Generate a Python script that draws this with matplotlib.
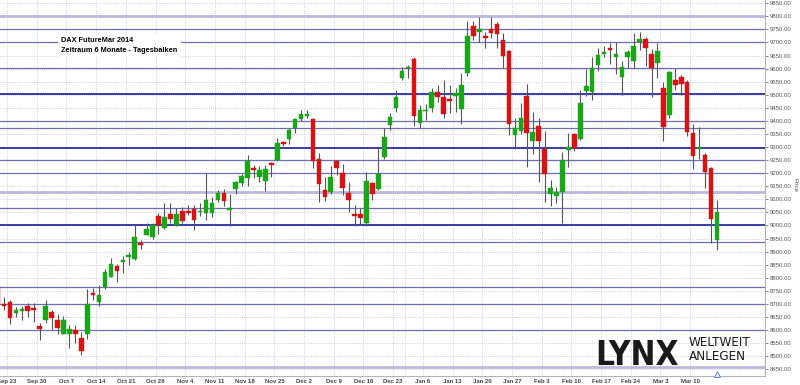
"""DAX future (Mar 2014) daily candles, Sep 2013 - Mar 2014, with horizontal support lines."""
import matplotlib
matplotlib.use("Agg")
import matplotlib.pyplot as plt
from matplotlib import font_manager
import numpy as np
import pandas as pd

HOLIDAYS = ["2013-12-24", "2013-12-25", "2013-12-26", "2013-12-31", "2014-01-01"]
dates = pd.bdate_range("2013-09-19", "2014-03-14").drop(pd.to_datetime(HOLIDAYS))

opens = [8765, 8701, 8708, 8666, 8673, 8691, 8685, 8615, 8637, 8669, 8640, 8586, 8584, 8599, 8571,
         8583, 8742, 8708, 8763, 8803, 8844, 8862, 8879, 8871, 8928, 8965, 8957, 9037, 8992, 9043,
         9001, 9057, 9052, 9063, 9050, 9046, 9046, 9097, 9125, 9060, 9139, 9161, 9182, 9216, 9186,
         9170, 9235, 9250, 9316, 9329, 9371, 9407, 9418, 9407, 9254, 9135, 9129, 9246, 9202, 9126,
         9039, 9045, 9011, 9161, 9139, 9263, 9384, 9448, 9563, 9601, 9637, 9391, 9436, 9448, 9509,
         9490, 9478, 9496, 9445, 9584, 9763, 9741, 9722, 9752, 9769, 9709, 9667, 9346, 9361, 9496,
         9324, 9380, 9292, 9122, 9114, 9129, 9288, 9348, 9330, 9514, 9512, 9614, 9655, 9675, 9643,
         9569, 9646, 9630, 9701, 9713, 9656, 9620, 9527, 9422, 9556, 9567, 9547, 9352, 9293, 9269,
         9221, 8944]
highs = [8780, 8727, 8714, 8689, 8691, 8704, 8704, 8625, 8714, 8678, 8660, 8654, 8621, 8621, 8593,
         8755, 8759, 8772, 8835, 8874, 8854, 8882, 8899, 9001, 8944, 9010, 9010, 9046, 9087, 9087,
         9065, 9071, 9078, 9078, 9084, 9199, 9110, 9135, 9139, 9120, 9170, 9196, 9269, 9231, 9228,
         9231, 9244, 9336, 9323, 9374, 9412, 9441, 9441, 9412, 9276, 9186, 9228, 9250, 9237, 9165,
         9078, 9065, 9203, 9167, 9295, 9371, 9429, 9518, 9607, 9614, 9646, 9461, 9463, 9527, 9537,
         9556, 9537, 9527, 9582, 9782, 9782, 9799, 9739, 9799, 9777, 9735, 9671, 9412, 9467, 9543,
         9435, 9410, 9361, 9173, 9148, 9282, 9352, 9352, 9518, 9598, 9643, 9680, 9688, 9697, 9701,
         9629, 9671, 9735, 9739, 9722, 9675, 9697, 9547, 9591, 9601, 9575, 9556, 9387, 9378, 9276,
         9225, 9097]
lows = [8690, 8676, 8622, 8648, 8637, 8650, 8631, 8561, 8627, 8599, 8586, 8584, 8533, 8551, 8506,
        8564, 8714, 8692, 8758, 8801, 8784, 8819, 8848, 8867, 8908, 8963, 8950, 8969, 8988, 9008,
        8997, 9008, 9040, 8982, 9037, 9020, 9033, 9088, 9074, 8999, 9121, 9152, 9152, 9180, 9165,
        9131, 9186, 9246, 9305, 9310, 9352, 9399, 9410, 9218, 9088, 9093, 9119, 9193, 9116, 9050,
        8999, 9004, 8999, 9096, 9136, 9256, 9365, 9433, 9556, 9565, 9381, 9374, 9403, 9435, 9473,
        9410, 9429, 9433, 9387, 9573, 9709, 9700, 9678, 9718, 9680, 9601, 9346, 9292, 9348, 9224,
        9272, 9167, 9091, 9074, 9084, 9011, 9224, 9284, 9327, 9496, 9480, 9592, 9646, 9616, 9579,
        9501, 9601, 9601, 9671, 9611, 9493, 9565, 9323, 9412, 9518, 9501, 9343, 9216, 9256, 9142,
        8931, 8905]
closes = [8701, 8692, 8644, 8676, 8676, 8673, 8678, 8602, 8691, 8644, 8609, 8637, 8602, 8584, 8520,
          8699, 8732, 8732, 8823, 8854, 8824, 8866, 8882, 8957, 8925, 8988, 9001, 9001, 9033, 9024,
          9045, 9017, 9049, 9020, 9053, 9097, 9084, 9126, 9093, 9063, 9165, 9189, 9248, 9213, 9212,
          9216, 9232, 9316, 9313, 9365, 9407, 9425, 9420, 9246, 9157, 9110, 9186, 9221, 9144, 9096,
          9035, 9027, 9170, 9119, 9196, 9339, 9416, 9493, 9591, 9603, 9420, 9441, 9438, 9509, 9493,
          9425, 9475, 9508, 9537, 9726, 9726, 9750, 9719, 9735, 9731, 9648, 9390, 9371, 9410, 9352,
          9358, 9324, 9196, 9142, 9129, 9250, 9301, 9295, 9467, 9533, 9601, 9652, 9662, 9672, 9655,
          9605, 9665, 9688, 9713, 9680, 9604, 9669, 9378, 9586, 9537, 9541, 9359, 9267, 9297, 9205,
          9024, 9052]

# horizontal support / resistance lines drawn on the chart
levels_light = [9802, 9129, 8459]
levels_dark = [9502, 9296, 9002]
levels_mid = [9753, 9701, 9601, 9401, 9371, 9250, 9199, 9065, 8937, 8763, 8699, 8599]

week_starts = ["2013-09-23", "2013-09-30", "2013-10-07", "2013-10-14", "2013-10-21", "2013-10-28",
               "2013-11-04", "2013-11-11", "2013-11-18", "2013-11-25", "2013-12-02", "2013-12-09",
               "2013-12-16", "2013-12-23", "2013-12-30", "2014-01-06", "2014-01-13", "2014-01-20",
               "2014-01-27", "2014-02-03", "2014-02-10", "2014-02-17", "2014-02-24", "2014-03-03",
               "2014-03-10"]
hidden_labels = ["2013-12-30"]

marker_day = "2014-03-14"
marker_price = 8431


def narrow_font(bold):
    # a condensed sans face if one is installed, else plain Liberation Sans
    hits = []
    for f in font_manager.fontManager.ttflist:
        nm = f.name.lower()
        st = f.stretch
        cond = "narrow" in nm or "condensed" in nm or st in ("condensed", "semi-condensed",
                                                           "extra-condensed", "ultra-condensed")
        if isinstance(st, (int, float)) and st < 100:
            cond = True
        if cond and "mono" not in nm and "serif" not in nm and f.style == "normal":
            w = f.weight if isinstance(f.weight, int) else (700 if "bold" in str(f.weight) else 400)
            hits.append((abs(w - (700 if bold else 400)), f.fname))
    if hits:
        return font_manager.FontProperties(fname=sorted(hits)[0][1])
    return font_manager.FontProperties(family="Liberation Sans", weight="bold" if bold else "normal")


def fit_text(fig, t, width_px):
    fig.canvas.draw()
    w = t.get_window_extent().width
    t.set_fontsize(t.get_fontsize() * width_px / w)


fig = plt.figure(figsize=(8, 3.85), dpi=100)
ax = fig.add_axes([0, 9 / 385, 765 / 800, 376 / 385])

o = np.array(opens); h = np.array(highs); l = np.array(lows); c = np.array(closes)
x = np.arange(len(dates))
up = c >= o
col = np.where(up, "#19a719", "#d91313")

ax.vlines(x, l, h, color="#555555", lw=0.8, zorder=3)
body_lo = np.minimum(o, c)
body_h = np.maximum(np.abs(c - o), 7)
ax.bar(x, body_h, bottom=body_lo, width=0.78, color=col, edgecolor=col, lw=0.3, zorder=4)

for y in levels_mid:
    ax.axhline(y, color="#6f6fb8", lw=0.9, zorder=2)
for y in levels_dark:
    ax.axhline(y, color="#3a3aaa", lw=1.4, zorder=2)
for y in levels_light:
    ax.axhline(y, color="#b9b9e0", lw=2.0, zorder=2)

idx = {d: i for i, d in enumerate(dates)}
tick_pos = [idx[pd.Timestamp(d)] - 0.5 for d in week_starts]
tick_lab = ["" if d in hidden_labels else f"{pd.Timestamp(d):%b} {pd.Timestamp(d).day}" for d in week_starts]
ax.set_xticks(tick_pos)
ax.set_xticklabels(tick_lab)
ax.set_yticks(np.arange(8450, 9851, 50))
ax.yaxis.set_major_formatter(matplotlib.ticker.FormatStrFormatter("%.2f"))
ax.yaxis.tick_right()
ax.grid(True, color="#c4c4c4", lw=0.6, ls=(0, (1, 1.5)), zorder=1)
ax.set_axisbelow(True)

ax.plot(idx[pd.Timestamp(marker_day)], marker_price, marker="^", ms=4, mfc="#dce8fa", mec="#5b8fd6",
        mew=0.7, clip_on=False, zorder=5)

ax.set_xlim(idx[pd.Timestamp("2013-09-23")] - 1.68, idx[pd.Timestamp("2013-09-23")] + 127.1)
ax.set_ylim(8424, 9862.6)
for s in ("top", "left"):
    ax.spines[s].set_visible(False)
for s in ("right", "bottom"):
    ax.spines[s].set_color("#b4b4b4")
    ax.spines[s].set_linewidth(0.8)
ax.tick_params(axis="x", labelsize=4.3, colors="#444444", length=0, pad=2.2)
ax.tick_params(axis="y", labelsize=4.3, colors="#555555", length=2, width=0.5, pad=1.5)
for t in ax.get_xticklabels() + ax.get_yticklabels():
    t.set_family(["Liberation Sans", "DejaVu Sans"])
for t in ax.get_xticklabels():
    t.set_fontweight("bold")

fig.text(795 / 800, 1 - 185 / 385, "Price", rotation=270, fontsize=4.5, color="#555555",
         ha="center", va="center", family=["Liberation Sans", "DejaVu Sans"])

fig.text(61 / 800, 1 - 37.5 / 385, "DAX FutureMar 2014\nZeitraum 6 Monate - Tagesbalken", fontsize=5.3,
         fontweight="bold", family=["Liberation Sans", "DejaVu Sans"], va="top", ha="left",
         linespacing=1.5, bbox=dict(fc="white", ec="none", pad=2.5))

# logo: LYNX  WELTWEIT / ANLEGEN
lynx = fig.text(595 / 800, 1 - 365 / 385, "LYNX", fontsize=30, color="#1a1a1a",
                fontproperties=narrow_font(True), va="baseline", ha="left")
lynx.set_fontsize(30)
fit_text(fig, lynx, 83)
w1 = fig.text(689 / 800, 1 - 346 / 385, "WELTWEIT", color="#1a1a1a",
              fontproperties=narrow_font(False), va="baseline", ha="left")
w1.set_fontsize(11)
fit_text(fig, w1, 62)
w2 = fig.text(689 / 800, 1 - 359.5 / 385, "ANLEGEN", color="#1a1a1a",
              fontproperties=narrow_font(False), va="baseline", ha="left")
w2.set_fontsize(w1.get_fontsize())

fig.savefig("out.png", dpi=100, facecolor="white")
